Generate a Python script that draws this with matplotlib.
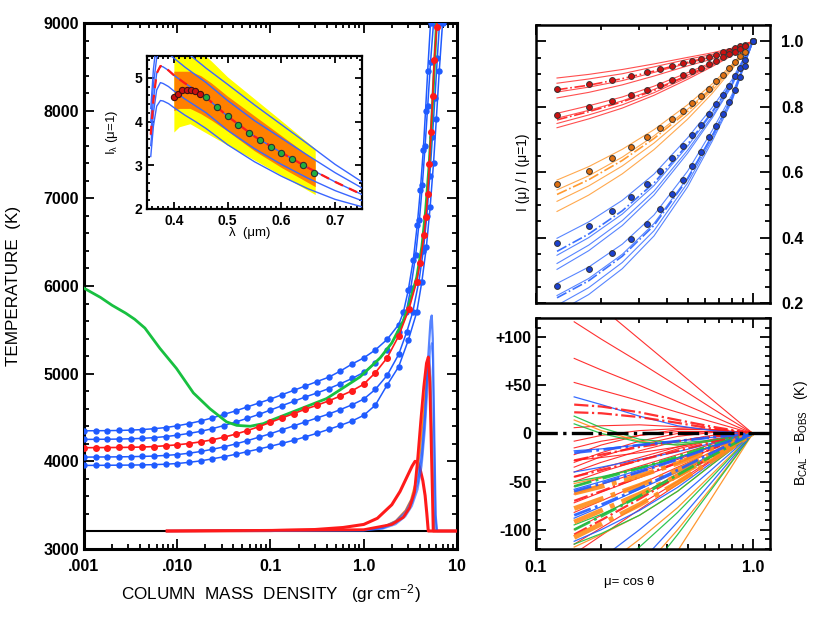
import matplotlib
matplotlib.use('Agg')
import matplotlib.pyplot as plt
from matplotlib.ticker import MultipleLocator, FixedLocator, NullFormatter, LogLocator

plt.rcParams['font.family'] = ['Liberation Sans', 'DejaVu Sans']
plt.rcParams['font.weight'] = 'bold'
plt.rcParams['mathtext.default'] = 'regular'

RED = '#ff1a1a'
BLUE = '#1f5bff'
GREEN = '#18c040'
ORANGE = '#ff8c1a'

# ---------------- main panel: temperature vs column mass ----------------
m_flat = [0.001, 0.00133, 0.00178, 0.00237, 0.00316, 0.00422, 0.00562, 0.0075,
          0.01, 0.0133, 0.0178, 0.0237, 0.0316, 0.0422, 0.0562, 0.075,
          0.1, 0.133, 0.178, 0.237, 0.316, 0.422, 0.562, 0.75, 1.0, 1.33, 1.78]

t_red = [4155, 4156, 4157, 4158, 4160, 4163, 4168, 4178, 4188, 4203, 4222, 4245, 4275, 4310,
         4350, 4395, 4445, 4495, 4545, 4595, 4640, 4690, 4745, 4805, 4880, 5010, 5180]
m_red_deep = [2.37, 3.05, 3.69, 4.01, 4.43, 4.65, 4.85, 5.05, 5.26, 5.48, 5.71, 6.06, 6.4]
t_red_deep = [5430, 5735, 6050, 6258, 6580, 6790, 7045, 7386, 7753, 8163, 8580, 8958, 9400]

t_blue1 = [4348, 4349, 4350, 4352, 4356, 4362, 4372, 4385, 4405, 4430, 4460, 4495, 4535, 4575,
           4620, 4665, 4710, 4760, 4810, 4860, 4910, 4960, 5030, 5110, 5180, 5270, 5390]
m_blue1_deep = [2.37, 2.66, 3.0, 3.4, 3.75, 4.05, 4.35, 4.6, 4.85, 5.2, 5.5]
t_blue1_deep = [5560, 5700, 5950, 6300, 6700, 7100, 7550, 8000, 8450, 9000, 9400]

t_blue2 = [4250, 4251, 4252, 4254, 4257, 4262, 4270, 4282, 4298, 4318, 4342, 4372, 4408, 4448,
           4490, 4535, 4585, 4635, 4685, 4735, 4780, 4830, 4885, 4945, 5015, 5120, 5270]
m_blue2_deep = [2.37, 2.85, 3.2, 3.6, 3.95, 4.25, 4.55, 4.85, 5.2, 5.6, 5.9]
t_blue2_deep = [5480, 5700, 5980, 6350, 6750, 7150, 7600, 8050, 8550, 9000, 9400]

t_blue4 = [4048, 4049, 4050, 4051, 4053, 4056, 4060, 4067, 4077, 4092, 4112, 4137, 4165, 4198,
           4235, 4275, 4315, 4360, 4405, 4450, 4495, 4540, 4590, 4645, 4710, 4820, 4980]
m_blue4_deep = [2.37, 2.9, 3.35, 3.9, 4.35, 4.75, 5.1, 5.45, 5.8, 6.15, 6.5, 6.9]
t_blue4_deep = [5220, 5480, 5700, 6050, 6400, 6800, 7250, 7700, 8150, 8600, 9000, 9400]

t_blue5 = [3953, 3954, 3955, 3956, 3957, 3959, 3962, 3967, 3975, 3988, 4005, 4028, 4052, 4080,
           4110, 4140, 4172, 4205, 4240, 4280, 4320, 4365, 4410, 4460, 4525, 4640, 4870]
m_blue5_deep = [2.37, 3.0, 3.7, 4.2, 4.7, 5.15, 5.6, 6.0, 6.45, 7.0, 7.4]
t_blue5_deep = [5080, 5380, 5700, 6050, 6450, 6900, 7400, 7900, 8450, 9000, 9400]

m_green = [0.001, 0.0015, 0.002, 0.0028, 0.0035, 0.0045, 0.0065, 0.0098, 0.0149, 0.0224,
           0.0338, 0.0434, 0.0605, 0.0838, 0.1, 0.2, 0.4, 0.91, 1.5, 2.0, 2.65, 3.0, 3.7,
           4.2, 4.6, 5.0, 5.3, 5.6, 5.9, 6.2]
t_green = [5975, 5870, 5780, 5690, 5620, 5520, 5290, 5060, 4780, 4600, 4450, 4410, 4400,
           4430, 4465, 4590, 4716, 4962, 5180, 5350, 5600, 5760, 6100, 6450, 6850, 7350,
           7800, 8300, 8800, 9300]

# contribution functions (drawn on the temperature scale)
t_base = 3205
m_cf_red_wide = [0.0078, 0.1, 0.3, 0.6, 1.0, 1.4, 2.0, 2.45, 2.9, 3.3, 3.55, 3.8, 4.0, 4.3,
                 4.55, 4.75, 4.92, 10]
t_cf_red_wide = [3205, 3210, 3222, 3245, 3280, 3350, 3505, 3656, 3820, 3945, 4000, 3985,
                 3920, 3780, 3610, 3400, 3205, 3205]
m_cf_red = [0.0078, 1.0, 2.0, 2.65, 3.1, 3.5, 3.8, 4.1, 4.4, 4.7, 4.92, 5.1, 5.3, 5.45, 5.55, 10]
t_cf_red = [3205, 3220, 3280, 3360, 3470, 3650, 4050, 4480, 4850, 5120, 5190, 4905, 4148,
            3600, 3205, 3205]
m_cf_orange = [0.0078, 1.0, 1.6, 2.2, 2.8, 3.2, 3.6, 4.0, 4.4, 4.75, 5.0, 5.2, 5.4, 5.6, 5.75, 10]
t_cf_orange = [3205, 3215, 3250, 3320, 3440, 3560, 3760, 4100, 4600, 5000, 5130, 4950, 4300,
               3500, 3205, 3205]
m_cf_blue_a = [0.0078, 1.0, 1.6, 2.2, 2.8, 3.3, 3.8, 4.2, 4.54, 4.92, 5.2, 5.36, 5.5, 5.7, 5.9,
               6.1, 10]
t_cf_blue_a = [3205, 3212, 3240, 3300, 3400, 3530, 3750, 4050, 4500, 5200, 5600, 5663, 5400,
               4340, 3390, 3205, 3205]
t_cf_blue_b = [3205, 3210, 3230, 3280, 3370, 3490, 3680, 3950, 4350, 4950, 5300, 5350, 5150,
               4200, 3350, 3205, 3205]
m_cf_blue_c = [0.0078, 1.0, 1.6, 2.2, 2.8, 3.3, 3.8, 4.2, 4.5, 4.8, 5.05, 5.2, 5.4, 5.6, 5.8, 10]
t_cf_blue_c = [3205, 3218, 3250, 3320, 3430, 3580, 3820, 4150, 4550, 5000, 5200, 5050, 4300,
               3500, 3205, 3205]

# ---------------- inset: intensity spectrum ----------------
lam_model = [0.357, 0.362, 0.368, 0.375, 0.38, 0.39, 0.40, 0.42, 0.44, 0.46, 0.50, 0.55,
             0.60, 0.65, 0.70, 0.75]
i_model_red = [3.70, 4.50, 5.10, 5.27, 5.25, 5.17, 5.06, 4.88, 4.72, 4.55, 4.12, 3.66,
               3.29, 2.94, 2.62, 2.33]
i_model_blue = [
    [4.30, 5.20, 5.85, 6.07, 6.05, 5.95, 5.83, 5.62, 5.42, 5.22, 4.85, 4.38, 3.93, 3.48, 3.02, 2.62],
    [4.00, 4.85, 5.45, 5.67, 5.65, 5.56, 5.45, 5.25, 5.07, 4.89, 4.48, 4.02, 3.62, 3.22, 2.83, 2.48],
    [3.70, 4.50, 5.10, 5.27, 5.25, 5.17, 5.06, 4.88, 4.72, 4.55, 4.12, 3.66, 3.29, 2.94, 2.62, 2.33],
    [3.45, 4.20, 4.72, 4.89, 4.87, 4.80, 4.70, 4.52, 4.36, 4.20, 3.80, 3.38, 3.02, 2.70, 2.42, 2.19],
    [3.20, 3.90, 4.35, 4.48, 4.47, 4.41, 4.32, 4.15, 4.00, 3.84, 3.47, 3.08, 2.75, 2.46, 2.22, 2.05],
]
lam_band = [0.40, 0.41, 0.43, 0.45, 0.47, 0.50, 0.55, 0.60, 0.663]
yellow_hi = [5.6, 5.6, 5.6, 5.6, 5.38, 5.02, 4.52, 4.02, 3.38]
yellow_lo = [3.76, 3.88, 3.95, 3.81, 3.67, 3.46, 3.12, 2.77, 2.33]
orange_hi = [5.15, 5.15, 5.15, 5.05, 4.88, 4.58, 4.13, 3.68, 3.11]
orange_lo = [4.25, 4.30, 4.30, 4.18, 4.03, 3.78, 3.33, 2.95, 2.51]
lam_obs_red = [0.400, 0.408, 0.416, 0.424, 0.432, 0.440, 0.448]
i_obs_red = [4.55, 4.64, 4.71, 4.73, 4.73, 4.70, 4.64]
lam_obs_green = [0.46, 0.48, 0.50, 0.52, 0.54, 0.56, 0.58, 0.60, 0.62, 0.64, 0.66]
i_obs_green = [4.55, 4.34, 4.12, 3.91, 3.73, 3.57, 3.42, 3.29, 3.15, 3.00, 2.83]

# ---------------- top right: centre-to-limb variation ----------------
mu_obs = [0.125, 0.175, 0.225, 0.275, 0.325, 0.375, 0.425, 0.475, 0.525, 0.575, 0.625,
          0.675, 0.725, 0.775, 0.825, 0.875, 0.925, 1.0]
clv_red1 = [0.855, 0.869, 0.883, 0.893, 0.905, 0.916, 0.926, 0.933, 0.941, 0.946, 0.952,
            0.959, 0.966, 0.971, 0.979, 0.985, 0.990, 1.0]
clv_red2 = [0.776, 0.799, 0.819, 0.835, 0.852, 0.868, 0.883, 0.896, 0.908, 0.919, 0.931,
            0.941, 0.951, 0.960, 0.968, 0.977, 0.986, 1.0]
clv_orange = [0.563, 0.605, 0.643, 0.677, 0.707, 0.735, 0.762, 0.787, 0.811, 0.834, 0.855,
              0.878, 0.898, 0.918, 0.937, 0.954, 0.969, 1.0]
clv_blue1 = [0.383, 0.434, 0.480, 0.523, 0.564, 0.604, 0.643, 0.679, 0.714, 0.745, 0.778,
             0.808, 0.837, 0.865, 0.893, 0.918, 0.944, 1.0]
clv_blue2 = [0.253, 0.303, 0.352, 0.396, 0.442, 0.487, 0.532, 0.577, 0.620, 0.661, 0.707,
             0.742, 0.778, 0.816, 0.852, 0.890, 0.926, 1.0]

mu_fit = [0.125, 0.175, 0.25, 0.35, 0.5, 0.65, 0.8, 1.0]
fan_red1 = [[0.888, 0.899, 0.914, 0.931, 0.951, 0.965, 0.979, 1.0],
            [0.872, 0.885, 0.901, 0.922, 0.945, 0.960, 0.976, 1.0],
            [0.845, 0.860, 0.880, 0.905, 0.933, 0.952, 0.971, 1.0],
            [0.827, 0.844, 0.867, 0.894, 0.925, 0.946, 0.968, 1.0]]
dash_red1 = [0.852, 0.866, 0.886, 0.909, 0.936, 0.954, 0.972, 1.0]
fan_red2 = [[0.780, 0.803, 0.830, 0.863, 0.904, 0.936, 0.964, 1.0],
            [0.765, 0.789, 0.818, 0.853, 0.897, 0.932, 0.961, 1.0],
            [0.749, 0.775, 0.806, 0.843, 0.890, 0.927, 0.959, 1.0],
            [0.736, 0.763, 0.796, 0.835, 0.884, 0.923, 0.956, 1.0]]
dash_red2 = [0.760, 0.785, 0.815, 0.850, 0.895, 0.930, 0.960, 1.0]
fan_orange = [[0.576, 0.617, 0.670, 0.730, 0.806, 0.870, 0.929, 1.0],
              [0.546, 0.589, 0.646, 0.711, 0.792, 0.861, 0.924, 1.0],
              [0.511, 0.558, 0.619, 0.689, 0.776, 0.850, 0.918, 1.0],
              [0.480, 0.530, 0.595, 0.669, 0.762, 0.841, 0.913, 1.0]]
dash_orange = [0.532, 0.577, 0.636, 0.703, 0.786, 0.857, 0.922, 1.0]
fan_blue1 = [[0.398, 0.448, 0.514, 0.594, 0.705, 0.798, 0.882, 1.0],
             [0.346, 0.400, 0.472, 0.559, 0.679, 0.781, 0.872, 1.0],
             [0.321, 0.377, 0.452, 0.542, 0.667, 0.772, 0.867, 1.0],
             [0.303, 0.360, 0.437, 0.530, 0.658, 0.766, 0.863, 1.0]]
dash_blue1 = [0.358, 0.411, 0.482, 0.567, 0.685, 0.785, 0.874, 1.0]
fan_blue2 = [[0.260, 0.310, 0.380, 0.469, 0.603, 0.728, 0.836, 1.0],
             [0.223, 0.275, 0.349, 0.443, 0.583, 0.714, 0.827, 1.0],
             [0.193, 0.247, 0.324, 0.421, 0.567, 0.703, 0.821, 1.0],
             [0.171, 0.226, 0.305, 0.405, 0.555, 0.695, 0.816, 1.0]]
dash_blue2 = [0.216, 0.268, 0.343, 0.437, 0.579, 0.711, 0.826, 1.0]

# ---------------- bottom right: brightness temperature residuals ----------------
mu_b = [0.15, 0.2, 0.3, 0.45, 0.65, 1.0]
res_red = [[154, 131, 98, 65, 35, 0], [116, 98, 74, 49, 26, 0], [78, 66, 50, 33, 18, 0],
           [53, 45, 34, 22, 12, 0], [6, 8, 9, 7, 4, 0], [-8, -2, 3, 5, 4, 0],
           [-15, -8, -2, 2, 2, 0], [-22, -12, -2, 4, 4, 0], [-28, -25, -20, -14, -7, 0],
           [-30, -20, -8, 0, 2, 0], [-35, -24, -12, -3, 1, 0], [-40, -30, -18, -8, -2, 0],
           [-45, -36, -25, -14, -6, 0], [-50, -40, -28, -16, -7, 0], [-55, -46, -34, -22, -11, 0],
           [-63, -53, -40, -27, -14, 0], [-72, -61, -46, -31, -16, 0], [-82, -70, -53, -35, -19, 0],
           [-100, -85, -64, -42, -23, 0], [-115, -98, -74, -50, -27, 0], [-125, -106, -79, -53, -28, 0]]
res_red_dd = [[30, 28, 22, 14, 7, 0], [22, 21, 17, 11, 5, 0], [-28, -22, -14, -8, -3, 0],
              [-45, -38, -28, -18, -9, 0], [-70, -60, -45, -30, -16, 0], [-105, -90, -68, -45, -24, 0]]
res_blue = [[38, 30, 18, 8, 3, 0], [-18, -16, -12, -8, -4, 0], [-40, -35, -27, -19, -10, 0],
            [-58, -50, -38, -26, -13, 0], [-88, -76, -58, -40, -22, 0], [-112, -100, -80, -56, -30, 0],
            [-150, -130, -100, -68, -37, 0], [-200, -175, -135, -92, -50, 0]]
res_blue_dd = [[-20, -17, -12, -8, -4, 0], [-60, -52, -40, -27, -14, 0], [-85, -74, -57, -38, -20, 0]]
res_green = [[18, 6, -6, -10, -7, 0], [10, 0, -9, -12, -8, 0], [-50, -45, -36, -25, -13, 0],
             [-95, -84, -66, -45, -24, 0], [-115, -104, -85, -60, -32, 0],
             [-170, -150, -118, -82, -45, 0], [-230, -200, -155, -105, -57, 0]]
res_green_dd = [[-55, -47, -36, -24, -12, 0], [-100, -86, -65, -43, -23, 0]]
res_orange = [[14, 3, -8, -12, -8, 0], [-52, -46, -36, -25, -13, 0], [-118, -105, -85, -60, -32, 0],
              [-160, -140, -110, -77, -42, 0], [-210, -185, -145, -100, -55, 0],
              [-260, -228, -178, -122, -66, 0]]
res_orange_dd = [[-62, -55, -44, -31, -17, 0], [-78, -68, -54, -38, -21, 0],
                 [-92, -80, -63, -44, -24, 0], [-108, -94, -74, -51, -28, 0]]


def frame(ax, lw=1.8):
    for s in ax.spines.values():
        s.set_linewidth(lw)
    ax.tick_params(which='both', direction='in', top=True, right=True, width=1.3)
    ax.tick_params(which='major', length=7)
    ax.tick_params(which='minor', length=3.5)


fig = plt.figure(figsize=(8.3, 6.3), dpi=100)

# ---- main axes
ax = fig.add_axes([0.1012, 0.1286, 0.4494, 0.8349])
ax.set_xscale('log')
ax.set_xlim(1e-3, 10)
ax.set_ylim(3000, 9000)
frame(ax, 2.2)

ax.axhline(t_base, color='k', lw=1.5, zorder=2)
ax.plot(m_cf_red_wide, t_cf_red_wide, color=RED, lw=2.2, zorder=3)
ax.plot(m_cf_orange, t_cf_orange, color=ORANGE, lw=1.3, zorder=3)
ax.plot(m_cf_blue_a, t_cf_blue_a, color=BLUE, lw=1.6, alpha=0.75, zorder=3)
ax.plot(m_cf_blue_a, t_cf_blue_b, color=BLUE, lw=1.2, alpha=0.6, zorder=3)
ax.plot(m_cf_blue_c, t_cf_blue_c, color=BLUE, lw=1.2, alpha=0.6, zorder=3)
ax.plot(m_cf_red, t_cf_red, color=RED, lw=2.0, zorder=4)

for t_flat, m_deep, t_deep in [(t_blue1, m_blue1_deep, t_blue1_deep),
                               (t_blue2, m_blue2_deep, t_blue2_deep),
                               (t_blue4, m_blue4_deep, t_blue4_deep),
                               (t_blue5, m_blue5_deep, t_blue5_deep)]:
    ax.plot(m_flat + m_deep, t_flat + t_deep, color=BLUE, lw=1.1, marker='o', ms=3.6,
            mec=BLUE, zorder=5)
ax.plot(m_green, t_green, color=GREEN, lw=2.0, zorder=6)
ax.plot(m_flat + m_red_deep, t_red + t_red_deep, color=RED, lw=1.2, marker='o', ms=4,
        mec=RED, zorder=7)

ax.xaxis.set_major_locator(FixedLocator([1e-3, 1e-2, 0.1, 1, 10]))
ax.set_xticklabels(['.001', '.010', '0.1', '1.0', '10'], fontsize=11.5)
ax.xaxis.set_minor_locator(LogLocator(base=10, subs=range(2, 10), numticks=20))
ax.xaxis.set_minor_formatter(NullFormatter())
ax.yaxis.set_major_locator(MultipleLocator(1000))
ax.yaxis.set_minor_locator(MultipleLocator(200))
ax.tick_params(axis='y', labelsize=11.5)
ax.tick_params(axis='x', pad=7)
ax.set_ylabel('TEMPERATURE  (K)', fontsize=12.3, fontweight='normal')
ax.yaxis.set_label_coords(-0.17, 0.5)
ax.set_xlabel(r'COLUMN  MASS  DENSITY   (gr cm$^{-2}$)', fontsize=12.3, fontweight='normal')
ax.xaxis.set_label_coords(0.5, -0.063)

# ---- inset
axi = fig.add_axes([0.1771, 0.6683, 0.2590, 0.2429])
axi.set_xlim(0.35, 0.75)
axi.set_ylim(2.0, 5.5)
frame(axi, 1.6)
axi.tick_params(which='major', length=5)
axi.tick_params(which='minor', length=2.5)
axi.fill_between(lam_band, yellow_lo, yellow_hi, color='#ffff00', lw=0, zorder=1)
axi.fill_between(lam_band, orange_lo, orange_hi, color='#ff8000', lw=0, zorder=2)
for curve in i_model_blue:
    axi.plot(lam_model, curve, color='#3a66ff', lw=1.0, zorder=3)
axi.plot(lam_model, i_model_red, color=RED, lw=1.6, dashes=(4, 3), zorder=4)
axi.plot(lam_obs_red, i_obs_red, 'o', ms=4.5, mfc='#cc1010', mec='#401010', mew=0.8, zorder=5)
axi.plot(lam_obs_green, i_obs_green, 'o', ms=4.5, mfc='#20b040', mec='#303030', mew=0.8, zorder=5)
axi.xaxis.set_major_locator(FixedLocator([0.4, 0.5, 0.6, 0.7]))
axi.set_xticklabels(['0.4', '0.5', '0.6', '0.7'])
axi.xaxis.set_minor_locator(MultipleLocator(0.01))
axi.yaxis.set_major_locator(MultipleLocator(1))
axi.yaxis.set_minor_locator(MultipleLocator(0.2))
axi.tick_params(labelsize=10)
axi.set_ylabel(r'I$_\lambda$ (μ=1)', fontsize=9.5, fontweight='normal')
axi.yaxis.set_label_coords(-0.125, 0.5)
axi.set_xlabel('λ  (μm)', fontsize=9.5, fontweight='normal')
axi.xaxis.set_label_coords(0.48, -0.115)

# ---- top right: I(mu)/I(mu=1)
axt = fig.add_axes([0.6458, 0.5190, 0.2819, 0.4413])
axt.set_xscale('log')
axt.set_xlim(0.1, 1.2)
axt.set_ylim(0.2, 1.05)
frame(axt, 1.8)
for obs, fan, dash, lc, pc in [(clv_red1, fan_red1, dash_red1, '#ff3030', '#cc1010'),
                               (clv_red2, fan_red2, dash_red2, '#ff3030', '#cc1010'),
                               (clv_orange, fan_orange, dash_orange, '#ff9a30', '#e07010'),
                               (clv_blue1, fan_blue1, dash_blue1, '#3a70ff', '#1a40d0'),
                               (clv_blue2, fan_blue2, dash_blue2, '#3a70ff', '#1a40d0')]:
    for curve in fan:
        axt.plot(mu_fit, curve, color=lc, lw=0.8, alpha=0.85, zorder=2)
    axt.plot(mu_fit, dash, color=lc, lw=1.2, ls='-.', zorder=3)
    axt.plot(mu_obs, obs, 'o', ms=4.2, mfc=pc, mec='#333333', mew=0.7, zorder=4)
axt.xaxis.set_major_locator(FixedLocator([0.1, 1.0]))
axt.xaxis.set_minor_locator(LogLocator(base=10, subs=range(2, 10), numticks=20))
axt.xaxis.set_major_formatter(NullFormatter())
axt.xaxis.set_minor_formatter(NullFormatter())
axt.yaxis.set_major_locator(MultipleLocator(0.2))
axt.yaxis.set_minor_locator(MultipleLocator(0.05))
axt.tick_params(axis='y', labelleft=False, labelright=True, labelsize=11.5, pad=8)
axt.set_yticks([0.2, 0.4, 0.6, 0.8, 1.0])
axt.set_yticklabels(['0.2', '0.4', '0.6', '0.8', '1.0'])
axt.set_ylabel('I (μ) / I (μ=1)', fontsize=10, fontweight='normal')
axt.yaxis.set_label_coords(-0.025, 0.47)

# ---- bottom right: B_cal - B_obs
axb = fig.add_axes([0.6458, 0.1286, 0.2819, 0.3667])
axb.set_xscale('log')
axb.set_xlim(0.1, 1.2)
axb.set_ylim(-120, 120)
frame(axb, 1.8)
for group, col, ls, lw in [(res_red, RED, '-', 0.8), (res_orange, ORANGE, '-', 0.9),
                           (res_green, GREEN, '-', 0.9), (res_blue, BLUE, '-', 0.9),
                           (res_red_dd, RED, '-.', 1.6), (res_orange_dd, ORANGE, '-.', 3.5),
                           (res_green_dd, GREEN, '-.', 2.0), (res_blue_dd, BLUE, '-.', 2.0)]:
    for curve in group:
        axb.plot(mu_b, curve, color=col, ls=ls, lw=lw, alpha=0.9, zorder=2)
axb.axhline(0, color='k', ls='-.', lw=2.4, zorder=5)
axb.xaxis.set_major_locator(FixedLocator([0.1, 1.0]))
axb.set_xticklabels(['0.1', '1.0'])
axb.xaxis.set_minor_locator(LogLocator(base=10, subs=range(2, 10), numticks=20))
axb.xaxis.set_minor_formatter(NullFormatter())
axb.yaxis.set_major_locator(MultipleLocator(50))
axb.yaxis.set_minor_locator(MultipleLocator(10))
axb.set_yticks([-100, -50, 0, 50, 100])
axb.set_yticklabels(['-100', '-50', '0', '+50', '+100'])
axb.tick_params(labelsize=11.5)
axb.tick_params(axis='x', pad=8)
axb.set_xlabel('μ= cos θ', fontsize=9.5, fontweight='normal')
axb.xaxis.set_label_coords(0.40, -0.115)
axb.yaxis.set_label_position('right')
axb.set_ylabel(r'B$_{CAL}$ $-$ B$_{OBS}$   (K)', fontsize=10, fontweight='normal')
axb.yaxis.set_label_coords(1.095, 0.5)

fig.savefig('out.png', dpi=100)
